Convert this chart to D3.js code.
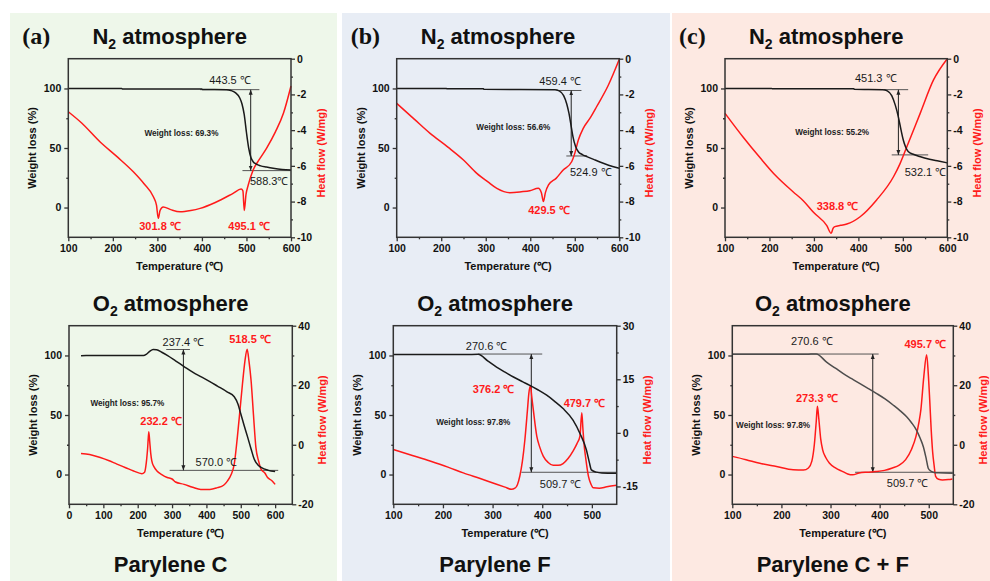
<!DOCTYPE html>
<html>
<head>
<meta charset="utf-8">
<script src="https://cdn.jsdelivr.net/npm/d3@7"></script>
<style>
  body { margin: 0; background: #fff; }
  svg text { font-family: "Liberation Sans", Arial, sans-serif; }
  svg text.letter { font-family: "Liberation Serif", "Times New Roman", serif; }
</style>
</head>
<body>
<svg id="chart" width="990" height="581"></svg>
<script>
// ---- data ----
const panelLetters = ["(a)", "(b)", "(c)"];
const materials    = ["Parylene C", "Parylene F", "Parylene C + F"];
const gases        = ["N", "O"];

const weightTicks  = [0, 50, 100];
const weightMinor  = [25, 75];
const tempTicksN2  = [100, 200, 300, 400, 500, 600];
const tempMinorN2  = [150, 250, 350, 450, 550];
const tempTicksO2a = [0, 100, 200, 300, 400, 500, 600];
const tempMinorO2a = [50, 150, 250, 350, 450, 550];
const tempTicksO2  = [100, 200, 300, 400, 500];
const tempMinorO2  = [150, 250, 350, 450];
const hfTicksN2    = [0, -2, -4, -6, -8, -10];
const hfMinorN2    = [-1, -3, -5, -7, -9];
const hfTicks40    = [40, 20, 0, -20];
const hfMinor40    = [30, 10, -10];
const hfTicks30    = [30, 15, 0, -15];
const hfMinor30    = [22.5, 7.5, -7.5];

// TGA (weight %) and DSC (heat flow W/mg) curves, [temperature, value]
const aN2Tga = [[100,100],[220,100],[221,99.6],[400,99.6],[401,99.2],[455,99],[465,98.3],[475,96.5],[485,92],[490,87],[495,78],[500,63],[505,50],[510,42],[515,38.5],[522,36.5],[532,35],[545,34],[560,33],[580,32],[600,31.5]];
const aN2Dsc = [[100,-2.97],[130,-3.6],[171,-4.65],[210,-5.5],[246,-6.33],[270,-7.0],[291,-7.73],[298,-8.2],[302,-8.94],[306,-8.5],[313,-8.3],[330,-8.45],[351,-8.57],[375,-8.5],[396,-8.38],[430,-8.05],[470,-7.54],[488,-7.3],[492,-7.4],[495.1,-8.5],[499,-7.6],[504,-7.07],[515,-6.23],[530,-5.6],[545,-5.02],[565,-4.1],[583,-3.06],[600,-1.53]];

const bN2Tga = [[100,100],[212,100],[213,99.7],[295,99.7],[296,99.3],[455,99],[465,98],[475,94],[482,87],[487,79],[492,68],[496,59.4],[502,51],[508,46.9],[517,44.5],[527,42.8],[545,40],[564,37.2],[585,34.5],[600,33]];
const bN2Dsc = [[100,-2.5],[140,-3.4],[175,-4.18],[215,-4.95],[250,-5.67],[280,-6.42],[305,-6.9],[325,-7.26],[354,-7.5],[380,-7.45],[399,-7.39],[418,-7.26],[425,-7.5],[429.5,-8.0],[434,-7.5],[441,-7.07],[458,-6.7],[474,-6.23],[493,-5.77],[500,-5.3],[508,-4.55],[519,-3.9],[535,-3.3],[549,-2.69],[575,-1.5],[600,-0.03]];

const cN2Tga = [[100,100],[205,100],[206,99.7],[390,99.7],[391,99.3],[455,99],[465,98],[475,94],[483,86],[490,76],[496,65],[501,56.7],[506,51],[512,47],[525,44.5],[538,42.8],[560,40.5],[580,39],[600,37.5]];
const cN2Dsc = [[100,-3.06],[141,-4.4],[179,-5.55],[216,-6.6],[253,-7.45],[276,-7.95],[299,-8.6],[329,-9.35],[338.8,-9.78],[343,-9.5],[347,-9.4],[360,-9.33],[374,-9.26],[404,-8.85],[441,-7.91],[479,-6.61],[494,-5.86],[509,-4.93],[539,-3.06],[569,-1.19],[600,0]];

const aO2Tga = [[35,99.8],[50,100],[217,100],[225,101],[235,103.5],[245,105],[255,104.8],[270,102.7],[286,100],[310,95.5],[335,90.7],[360,86],[383.5,82.2],[410,78],[432,74.3],[460,69.5],[481,65.3],[492,59],[500,51],[510,41],[520,31.4],[530,21.5],[539,13],[550,8],[559,6],[580,3.5],[600,2.5]];
const aO2Dsc = [[35,-2.9],[60,-3.3],[91,-4.3],[115,-5.3],[139.5,-6.5],[165,-7.7],[188,-8.8],[212,-9.7],[220,-9.2],[225,-6],[229,-1],[232.2,4.4],[235,1],[238,-3],[241,-5.4],[248,-7.5],[256,-8.8],[270,-10],[286,-11],[300,-11.5],[310,-12.5],[335,-13.3],[360,-14.3],[383.5,-15],[410,-15],[432,-14.4],[450,-13.6],[461,-12.2],[472,-10],[481,-6.5],[490,2.5],[498,12],[505,20.5],[512,28],[518.5,32.1],[524,28],[530,21.6],[537,10],[544,-0.9],[552,-5.5],[559,-8.2],[570,-9.5],[578,-11],[590,-12],[600,-13.3]];

const bO2Tga = [[100,100.8],[245,100.8],[271,101],[290,95.5],[308,90.3],[325,86],[342,81.9],[360,78],[375,74.9],[392,71],[409,66.6],[425,61.5],[442,55.4],[462,45.7],[476,34.5],[489,20.6],[495,10],[499,3.9],[509,2],[520,1.3],[549,1.1]];
const bO2Dsc = [[100,-4.66],[140,-6.4],[174,-7.9],[210,-9.6],[241,-11.2],[275,-12.8],[308,-14.4],[325,-15.2],[338,-15.8],[345,-15.5],[350,-14.5],[355,-12],[360,-8],[365,-2],[370,6],[373,11],[376.2,13.2],[379,10],[382,6.5],[389,-0.9],[395,-4],[402,-6.5],[412,-8.3],[422,-9.1],[432,-9.1],[442,-8.6],[452,-7.2],[462,-5.1],[470,-3],[476,-0.9],[479.7,5.6],[482,1],[484,-2.8],[488,-7.5],[493,-12.1],[498,-14.3],[503,-15.4],[515,-15.5],[530,-15.1],[550,-14.7]];

const cO2Tga = [[100,101],[250,101],[271,101.3],[292,94.4],[310,89.3],[326,84.7],[343,80.5],[360,76.3],[377,72.2],[394,68],[411,63.5],[428,58.2],[442,53.5],[455,48.5],[465,43.5],[475,37.3],[483,30],[489,23.4],[495,13],[499,5.3],[504,3],[509,2],[520,1.4],[549,1.1]];
const cO2Dsc = [[100,-3.9],[128,-5],[156,-6.2],[190,-7.3],[224,-8.4],[245,-8.5],[255,-7.8],[262,-5.5],[267,0],[271,8],[273.3,12.9],[276,9],[280,2],[284,-1.7],[290,-4.2],[298,-6.2],[310,-7.8],[325,-9],[335,-9.8],[345,-10.1],[358,-9.5],[375,-9.2],[392,-9],[410,-8.6],[426,-7.8],[440,-6.8],[453,-5],[465,-1.5],[474,2.8],[480,7.5],[484,11.8],[490,23],[495.7,30.2],[499,24],[502,15],[505,5],[508,-2.5],[511,-7],[514,-10.6],[520,-11.6],[528,-11.8],[540,-11.7],[548,-11.5]];

// annotation marks: lines [weight, t0, t1], arrow [t, w0, w1], labels [text, t, weight]
const aN2Ann = { top:[99,396,529], arrow:[509.5,99,31], bottom:[31,491,600],
  black:[["443.5 ℃",463,103.9],["588.3℃",551,19.2]], loss:["Weight loss: 69.3%",354,60],
  red:[["301.8 ℃",306,-18.9],["495.1 ℃",506,-18.9]] };
const bN2Ann = { top:[98.3,459,515], arrow:[492,98.3,43.3], bottom:[43.3,481,528],
  black:[["459.4 ℃",467,102.5],["524.9 ℃",536,26.7]], loss:["Weight loss: 56.6%",362,65.4],
  red:[["429.5 ℃",442,-5.3]] };
const cN2Ann = { top:[99,457,512], arrow:[490,99,44.2], bottom:[44.2,475,557],
  black:[["451.3 ℃",439,105.3],["532.1 ℃",551,26.7]], loss:["Weight loss: 55.2%",341,61.3],
  red:[["338.8 ℃",353,-2.2]] };
const aO2Ann = { top:[105,283,352], arrow:[333,105,3.5], bottom:[3.5,293,609],
  black:[["237.4 ℃",333,108],["570.0 ℃",429,7.2]], loss:["Weight loss: 95.7%",170,57.6],
  red:[["518.5 ℃",527,110.7],["232.2 ℃",268,41.6]] };
const bO2Ann = { top:[101.2,271,400], arrow:[378,101.2,1.9], bottom:[1.9,358,550],
  black:[["270.6 ℃",288,104.6],["509.7 ℃",437,-11.3]], loss:["Weight loss: 97.8%",261,42],
  red:[["376.2 ℃",302,68.7],["479.7 ℃",485,57]] };
const cO2Ann = { top:[101.2,100,398], arrow:[386,101.2,1.9], bottom:[1.9,350,549],
  black:[["270.6 ℃",262,108.8],["509.7 ℃",457,-10.2]], loss:["Weight loss: 97.8%",183,39.4],
  red:[["273.3 ℃",272,61.2],["495.7 ℃",493,106]] };

// ---- layout ----
const panelBoxes = [[10,13,327,568],[342,13,328,568],[672,13,318,568]];
const panelFill  = ["#eef7ea", "#e8edf5", "#fde9e2"];
const rows = [{top:58.7, bottom:237.3}, {top:325.7, bottom:504.3}];

const charts = [
  {p:0, r:0, x:[68.3,291],   tDom:[100,600], tT:tempTicksN2,  tM:tempMinorN2,  hDom:[-10,0], hT:hfTicksN2, hM:hfMinorN2, tga:aN2Tga, dsc:aN2Dsc, ann:aN2Ann, col:"#1a1a1a"},
  {p:1, r:0, x:[396.7,619.3],tDom:[100,600], tT:tempTicksN2,  tM:tempMinorN2,  hDom:[-10,0], hT:hfTicksN2, hM:hfMinorN2, tga:bN2Tga, dsc:bN2Dsc, ann:bN2Ann, col:"#1a1a1a"},
  {p:2, r:0, x:[725,947.3],  tDom:[100,600], tT:tempTicksN2,  tM:tempMinorN2,  hDom:[-10,0], hT:hfTicksN2, hM:hfMinorN2, tga:cN2Tga, dsc:cN2Dsc, ann:cN2Ann, col:"#1a1a1a"},
  {p:0, r:1, x:[69,292.3],   tDom:[0,650],   tT:tempTicksO2a, tM:tempMinorO2a, hDom:[-20,40], hT:hfTicks40, hM:hfMinor40, tga:aO2Tga, dsc:aO2Dsc, ann:aO2Ann, col:"#1a1a1a"},
  {p:1, r:1, x:[393.3,616.7],tDom:[100,550], tT:tempTicksO2,  tM:tempMinorO2,  hDom:[-20,30], hT:hfTicks30, hM:hfMinor30, tga:bO2Tga, dsc:bO2Dsc, ann:bO2Ann, col:"#1a1a1a"},
  {p:2, r:1, x:[732.3,953.3],tDom:[100,550], tT:tempTicksO2,  tM:tempMinorO2,  hDom:[-20,40], hT:hfTicks40, hM:hfMinor40, tga:cO2Tga, dsc:cO2Dsc, ann:cO2Ann, col:"#4d4d4d"}
];

const RED = "#ff1a1a";
const INK = "#1a1a1a";
const svg = d3.select("#chart");

// arrowhead marker for the weight-loss arrows
const defs = svg.append("defs");
defs.append("marker")
    .attr("id", "head")
    .attr("viewBox", "0 0 10 10")
    .attr("refX", 10).attr("refY", 5)
    .attr("markerWidth", 5).attr("markerHeight", 5)
    .attr("orient", "auto-start-reverse")
  .append("path")
    .attr("d", "M0,1 L10,5 L0,9 z")
    .attr("fill", "#222");

// panel backgrounds
panelBoxes.forEach(function(b, i) {
  svg.append("rect")
    .attr("x", b[0]).attr("y", b[1]).attr("width", b[2]).attr("height", b[3])
    .attr("fill", panelFill[i]);
});

charts.forEach(drawChart);

function drawChart(c) {
  const row = rows[c.r];
  const x  = d3.scaleLinear().domain(c.tDom).range(c.x);
  const yW = d3.scaleLinear().domain([-25, 125]).range([row.bottom, row.top]);
  const yH = d3.scaleLinear().domain(c.hDom).range([row.bottom, row.top]);
  const g  = svg.append("g");
  const fmt = function(d) { return String(d); };

  // heading above the plot
  const cx = (c.x[0] + c.x[1]) / 2 - 10;
  const head = g.append("text")
    .attr("x", cx).attr("y", row.top - 15)
    .attr("text-anchor", "middle")
    .attr("font-size", 22).attr("font-weight", "bold").attr("fill", "#111");
  head.append("tspan").text(gases[c.r]);
  head.append("tspan").attr("font-size", 14).attr("dy", 5).text("2");
  head.append("tspan").attr("dy", -5).text(" atmosphere");

  if (c.r === 0) {
    g.append("text")
      .attr("class", "letter")
      .attr("x", c.x[0] - 46).attr("y", 44)
      .attr("font-size", 24).attr("font-weight", "bold").attr("fill", "#111")
      .text(panelLetters[c.p]);
  } else {
    g.append("text")
      .attr("x", cx).attr("y", 572)
      .attr("text-anchor", "middle")
      .attr("font-size", 22).attr("font-weight", "bold").attr("fill", "#111")
      .text(materials[c.p]);
  }

  // axes
  const styleAxis = function(sel) {
    sel.selectAll("path").remove();
    sel.selectAll("line").attr("stroke", "#333").attr("stroke-width", 1.3);
    sel.selectAll("text").attr("font-size", 10.5).attr("font-weight", "bold").attr("fill", "#111");
  };
  g.append("g").attr("transform", "translate(0," + row.bottom + ")")
    .call(d3.axisBottom(x).tickValues(c.tT).tickFormat(fmt).tickSize(4).tickPadding(3)).call(styleAxis);
  g.append("g").attr("transform", "translate(0," + row.bottom + ")")
    .call(d3.axisBottom(x).tickValues(c.tM).tickFormat("").tickSize(2)).call(styleAxis);
  g.append("g").attr("transform", "translate(" + c.x[0] + ",0)")
    .call(d3.axisLeft(yW).tickValues(weightTicks).tickFormat(fmt).tickSize(4).tickPadding(3)).call(styleAxis);
  g.append("g").attr("transform", "translate(" + c.x[0] + ",0)")
    .call(d3.axisLeft(yW).tickValues(weightMinor).tickFormat("").tickSize(2)).call(styleAxis);
  g.append("g").attr("transform", "translate(" + c.x[1] + ",0)")
    .call(d3.axisRight(yH).tickValues(c.hT).tickFormat(fmt).tickSize(4).tickPadding(2)).call(styleAxis);
  g.append("g").attr("transform", "translate(" + c.x[1] + ",0)")
    .call(d3.axisRight(yH).tickValues(c.hM).tickFormat("").tickSize(2)).call(styleAxis);

  // axis titles
  const midY = (row.top + row.bottom) / 2;
  g.append("text")
    .attr("transform", "translate(" + (c.x[0] - 32) + "," + midY + ") rotate(-90)")
    .attr("text-anchor", "middle")
    .attr("font-size", 11).attr("font-weight", "bold").attr("fill", "#111")
    .text("Weight loss (%)");
  g.append("text")
    .attr("transform", "translate(" + (c.x[1] + 34) + "," + (midY + 5) + ") rotate(-90)")
    .attr("text-anchor", "middle")
    .attr("font-size", 11).attr("font-weight", "bold").attr("fill", RED)
    .text("Heat flow (W/mg)");
  g.append("text")
    .attr("x", (c.x[0] + c.x[1]) / 2).attr("y", row.bottom + 33)
    .attr("text-anchor", "middle")
    .attr("font-size", 11).attr("font-weight", "bold").attr("fill", "#111")
    .text("Temperature (℃)");

  // curves
  const lineW = d3.line().curve(d3.curveMonotoneX)
    .x(function(d) { return x(d[0]); }).y(function(d) { return yW(d[1]); });
  const lineH = d3.line().curve(d3.curveMonotoneX)
    .x(function(d) { return x(d[0]); }).y(function(d) { return yH(d[1]); });

  // annotation guide lines
  const a = c.ann;
  [a.top, a.bottom].forEach(function(l) {
    g.append("line")
      .attr("x1", x(l[1])).attr("x2", x(l[2]))
      .attr("y1", yW(l[0])).attr("y2", yW(l[0]))
      .attr("stroke", "#555").attr("stroke-width", 1);
  });
  g.append("line")
    .attr("x1", x(a.arrow[0])).attr("x2", x(a.arrow[0]))
    .attr("y1", yW(a.arrow[1])).attr("y2", yW(a.arrow[2]))
    .attr("stroke", "#222").attr("stroke-width", 1)
    .attr("marker-start", "url(#head)").attr("marker-end", "url(#head)");

  g.append("path").datum(c.dsc)
    .attr("d", lineH).attr("fill", "none").attr("stroke", RED).attr("stroke-width", 1.5);
  g.append("path").datum(c.tga)
    .attr("d", lineW).attr("fill", "none").attr("stroke", c.col).attr("stroke-width", 1.5);

  // frame
  g.append("rect")
    .attr("x", c.x[0]).attr("y", row.top)
    .attr("width", c.x[1] - c.x[0]).attr("height", row.bottom - row.top)
    .attr("fill", "none").attr("stroke", "#333").attr("stroke-width", 1.5);

  // labels
  a.black.forEach(function(l) {
    g.append("text")
      .attr("x", x(l[1])).attr("y", yW(l[2]))
      .attr("text-anchor", "middle")
      .attr("font-size", 11).attr("fill", INK)
      .text(l[0]);
  });
  a.red.forEach(function(l) {
    g.append("text")
      .attr("x", x(l[1])).attr("y", yW(l[2]))
      .attr("text-anchor", "middle")
      .attr("font-size", 11).attr("font-weight", "bold").attr("fill", RED)
      .text(l[0]);
  });
  g.append("text")
    .attr("x", x(a.loss[1])).attr("y", yW(a.loss[2]))
    .attr("text-anchor", "middle")
    .attr("font-size", 8.2).attr("font-weight", "bold").attr("fill", "#222")
    .text(a.loss[0]);
}
</script>
</body>
</html>
